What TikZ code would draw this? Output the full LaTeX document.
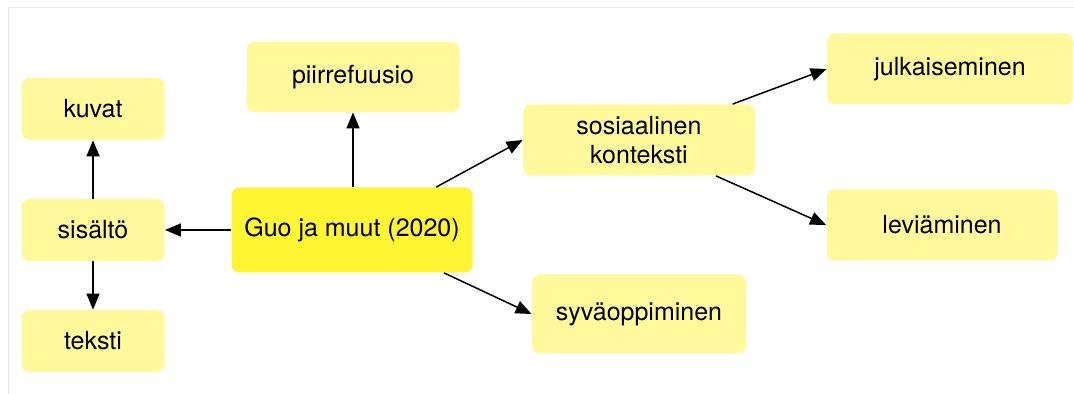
\documentclass[tikz,border=0pt]{standalone}
\usepackage{fontspec}
\setmainfont{TeX Gyre Heros}
\usetikzlibrary{arrows.meta}

\definecolor{paleyellow}{RGB}{255,249,155}
\definecolor{mainyellow}{RGB}{255,245,50}
\definecolor{framegray}{RGB}{232,232,232}

\begin{document}
\begin{tikzpicture}[
        x=0.5pt,
        y=-0.5pt,
        every node/.style={font=\fontsize{12.5}{14.5}\selectfont},
        topic/.style={
            rectangle,
            rounded corners=4pt,
            fill=paleyellow,
            inner sep=0pt,
            align=center
        },
        source/.style={
            rectangle,
            rounded corners=4pt,
            fill=mainyellow,
            inner sep=0pt,
            minimum width=120.5pt,
            minimum height=42.5pt
        },
        link/.style={draw, line width=0.75pt, -{Triangle[length=8pt,width=6.5pt]}}
    ]
    \useasboundingbox (0,0) rectangle (1074,394);
    % frame
    \draw[framegray, line width=0.5pt] (1074,8) -- (8,8) -- (8,394);

    % Tree
    \node[source] (guo) at (352,230) {Guo ja muut (2020)};

    % left branch
    \node[topic, minimum width=71.5pt, minimum height=31pt] (sis) at (93,230) {sisältö};
    \draw[link] (guo) -- (sis);

    \node[topic, minimum width=71.5pt, minimum height=31pt] (kuv) at (93,109) {kuvat};
    \draw[link] (sis) -- (kuv);

    \node[topic, minimum width=71.5pt, minimum height=31pt] (teks) at (93,341) {teksti};
    \draw[link] (sis) -- (teks);

    % upper branch
    \node[topic, minimum width=106.5pt, minimum height=35pt] (piir) at (353,77) {piirrefuusio};
    \draw[link] (guo.north -| piir) -- (piir);

    % right branches
    \node[topic, minimum width=116pt, minimum height=35.5pt] (sos) at (639,140) {sosiaalinen\\konteksti};
    \draw[link] (guo.27) -- (sos.west);

    \node[topic, minimum width=107pt, minimum height=39.5pt] (syv) at (639,314) {syväoppiminen};
    \draw[link] (guo.-25) -- (syv.west);

    \node[topic, minimum width=123pt, minimum height=35.5pt] (julk) at (950,69) {julkaiseminen};
    \draw[link] (sos.21) -- (julk.west);

    \node[topic, minimum width=115.5pt, minimum height=35.5pt] (lev) at (942,225) {leviäminen};
    \draw[link] (sos.-25) -- (lev.west);

\end{tikzpicture}
\end{document}
